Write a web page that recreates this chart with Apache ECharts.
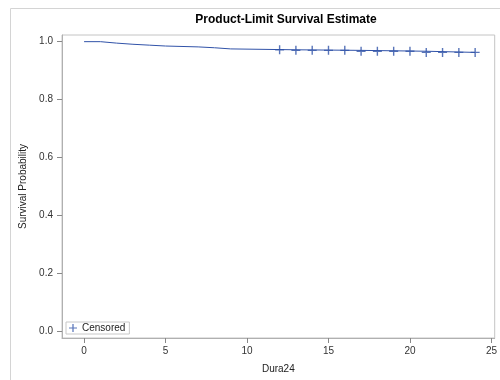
<!DOCTYPE html>
<html>
<head>
<meta charset="utf-8">
<script src="https://cdn.jsdelivr.net/npm/echarts@6/dist/echarts.min.js"></script>
<style>
  html, body { margin: 0; padding: 0; background: #fff; }
  #chart { width: 500px; height: 380px; }
</style>
</head>
<body>
<div id="chart"></div>
<script>
  // survival steps (time, estimate)
  const times = [0, 1, 2, 3, 4, 5, 7, 8, 9, 13, 17, 21, 24]
  const surv = [1.0, 0.995, 0.991, 0.988, 0.985, 0.982, 0.979, 0.975, 0.972, 0.970, 0.967, 0.963, 0.963]
  // censored observations
  const censorTimes = [12, 13, 14, 15, 16, 17, 18, 19, 20, 21, 22, 23, 24]
  const censorSurv = [0.972, 0.970, 0.970, 0.970, 0.970, 0.967, 0.967, 0.967, 0.967, 0.963, 0.963, 0.963, 0.963]
  const xTicks = [0, 5, 10, 15, 20, 25]
  const yTicks = [0, 0.2, 0.4, 0.6, 0.8, 1.0]

  const font = 'Liberation Sans, Arial, sans-serif'
  const blue = '#3052a8'
  const plus = 'path://M3.8,0h1.4v3.8h3.8v1.4h-3.8v3.8h-1.4v-3.8h-3.8v-1.4h3.8z'

  const mChart = echarts.init(document.getElementById('chart'))
  const option = {
    animation: false,
    title: {
      text: 'Product-Limit Survival Estimate',
      left: 281,
      top: 9,
      textAlign: 'center',
      textStyle: { fontFamily: font, fontSize: 12, fontWeight: 'bold', color: '#000' }
    },
    legend: {
      data: ['Censored'],
      left: 66,
      top: 322,
      orient: 'horizontal',
      padding: [1, 4, 1, 3],
      borderColor: '#c8c8c8',
      borderWidth: 1,
      itemWidth: 8,
      itemHeight: 8,
      icon: plus,
      textStyle: { fontFamily: font, fontSize: 10, color: '#222' }
    },
    grid: {
      left: 62,
      right: 1,
      top: 35,
      bottom: 42,
      show: true,
      borderColor: '#c4c4c4',
      borderWidth: 1
    },
    xAxis: {
      type: 'value',
      min: -1.355,
      max: 25.2,
      name: 'Dura24',
      nameLocation: 'middle',
      nameGap: 26,
      nameTextStyle: { fontFamily: font, fontSize: 10, color: '#222' },
      axisLine: { show: true, onZero: false, lineStyle: { color: '#b0b0b0' } },
      axisTick: { show: true, customValues: xTicks, length: 5, lineStyle: { color: '#888' } },
      axisLabel: { customValues: xTicks, fontFamily: font, fontSize: 10, color: '#333', margin: 8 },
      splitLine: { show: false }
    },
    yAxis: {
      type: 'value',
      min: -0.0217,
      max: 1.023,
      name: 'Survival Probability',
      nameLocation: 'middle',
      nameRotate: 90,
      nameGap: 34,
      nameTextStyle: { fontFamily: font, fontSize: 10, color: '#222' },
      axisLine: { show: true, onZero: false, lineStyle: { color: '#b0b0b0' } },
      axisTick: { show: true, customValues: yTicks, length: 5, lineStyle: { color: '#888' } },
      axisLabel: {
        customValues: yTicks,
        fontFamily: font, fontSize: 10, color: '#333', margin: 9,
        formatter: v => v.toFixed(1)
      },
      splitLine: { show: false }
    },
    graphic: [{
      type: 'polyline',
      shape: { points: [[10.5, 380], [10.5, 8.5], [500, 8.5]] },
      style: { stroke: '#d4d4d4', lineWidth: 1, fill: null },
      silent: true
    }],
    series: [{
      name: 'Survival',
      type: 'line',
      step: 'end',
      showSymbol: false,
      lineStyle: { color: blue, width: 1 },
      data: times.map((t, i) => [t, surv[i]]),
      z: 2
    }, {
      name: 'Censored',
      type: 'scatter',
      symbol: plus,
      symbolSize: 9,
      itemStyle: { color: blue },
      data: censorTimes.map((t, i) => [t, censorSurv[i]]),
      z: 3
    }]
  }
  mChart.setOption(option)
  window.addEventListener('resize', function() {
    mChart.resize()
  })
</script>
</body>
</html>
